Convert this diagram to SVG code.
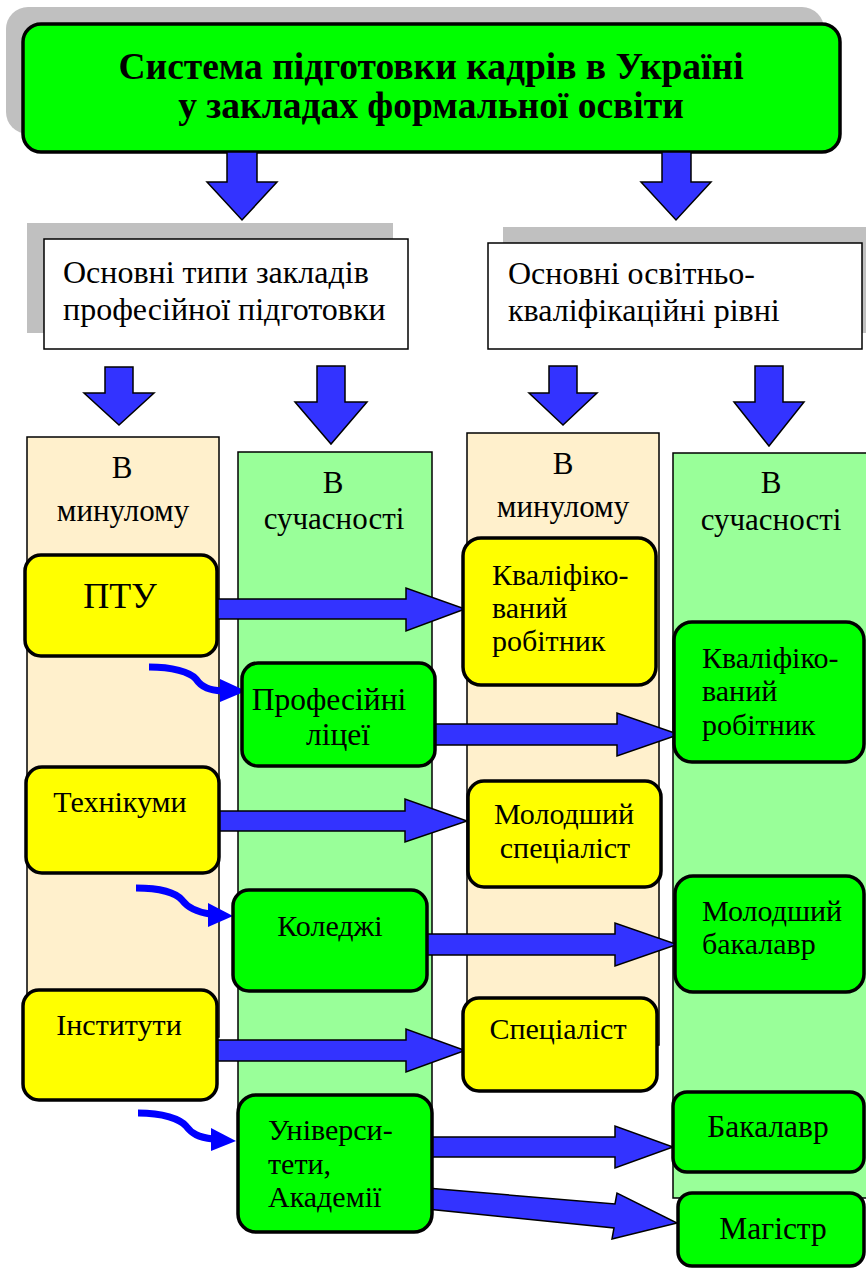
<svg xmlns="http://www.w3.org/2000/svg" width="866" height="1269" viewBox="0 0 866 1269">
<style>
text{font-family:'Liberation Serif','Times New Roman',serif;fill:#000}
.t{font-size:30px}
.tl{font-size:31.5px}
.hb{font-size:32px}
.h{font-size:31px}
.c{text-anchor:middle}
.ttl{font-size:37.5px;font-weight:bold;text-anchor:middle}
.shadow{fill:#C0C0C0}
.box{fill:#FFFFFF;stroke:#000;stroke-width:1.5}
.beige{fill:#FFF0CC;stroke:#000;stroke-width:1.5}
.lg{fill:#99FF99;stroke:#000;stroke-width:1.5}
.y{fill:#FFFF00;stroke:#000;stroke-width:3.5}
.g{fill:#00FF00;stroke:#000;stroke-width:3.5}
.ba{fill:#3333FF;stroke:#000;stroke-width:1.5;stroke-linejoin:miter}
.cv{fill:none;stroke:#0000FF;stroke-width:7}
.cvh{fill:#0000FF}
</style>

<g id="title">
<rect class="shadow" x="6" y="7" width="818" height="127" rx="22"/>
<rect x="23" y="24" width="817" height="128" rx="18" fill="#00FF00" stroke="#000" stroke-width="3.5"/>
<text class="ttl" x="431" y="79">Система підготовки кадрів в Україні</text>
<text class="ttl" x="431" y="118">у закладах формальної освіти</text>
</g>

<g id="types">
<rect class="shadow" x="27" y="223" width="366" height="110"/>
<rect class="box" x="44" y="239" width="364" height="110"/>
<text class="hb" x="63" y="283">Основні типи закладів</text>
<text class="hb" x="63" y="320">професійної підготовки</text>
</g>

<g id="levels">
<rect class="shadow" x="503" y="227" width="363" height="106"/>
<rect class="box" x="488" y="243" width="374" height="106"/>
<text class="hb" x="508" y="284">Основні освітньо-</text>
<text class="hb" x="508" y="321">кваліфікаційні рівні</text>
</g>

<g id="col-past-types">
<rect class="beige" x="27" y="437" width="192" height="600"/>
<text class="h c" x="122" y="478">В</text>
<text class="h c" x="123" y="521">минулому</text>
</g>
<g id="col-now-types">
<rect class="lg" x="238" y="452" width="194" height="750"/>
<text class="h c" x="333" y="493">В</text>
<text class="h c" x="334" y="529">сучасності</text>
</g>
<g id="col-past-levels">
<rect class="beige" x="467" y="433" width="192" height="612"/>
<text class="h c" x="563" y="474">В</text>
<text class="h c" x="563" y="517">минулому</text>
</g>
<g id="col-now-levels">
<rect class="lg" x="673" y="453" width="200" height="745"/>
<text class="h c" x="771" y="493">В</text>
<text class="h c" x="771" y="530">сучасності</text>
</g>

<g id="connectors">
<polygon class="ba" points="227,152 257,152 257,182 277,182 242,220 207,182 227,182"/>
<polygon class="ba" points="662,152 691,152 691,182 711,182 676,220 641,182 662,182"/>
<polygon class="ba" points="105,367 133,367 133,393 154,393 119,425 84,393 105,393"/>
<polygon class="ba" points="317,366 345,366 345,402 367,402 331,444 295,402 317,402"/>
<polygon class="ba" points="549,366 577,366 577,393 597,393 563,425 529,393 549,393"/>
<polygon class="ba" points="755,366 783,366 783,402 804,402 769,446 734,402 755,402"/>
<polygon class="ba" points="217,599 406,599 406,588 465,609 406,631 406,619 217,619"/>
<polygon class="ba" points="428,724 617,724 617,713 679,734.5 617,756 617,745 428,745"/>
<polygon class="ba" points="218,811 405,811 405,799 467,821 405,842 405,831 218,831"/>
<polygon class="ba" points="427,934 615,934 615,923 677,944.5 615,966 615,955 427,955"/>
<polygon class="ba" points="217,1040 406,1040 406,1029 465,1050.5 406,1072 406,1061 217,1061"/>
<polygon class="ba" points="427,1137 615,1137 615,1126 673,1147 615,1168 615,1157 427,1157"/>
<polygon class="ba" points="427,1188 615,1204 617,1193 677,1223 612,1239 614,1228 427,1209"/>
<path class="cv" d="M149,667 C172,667 190,672 196,679 C202,688 210,690 222,691"/>
<polygon class="cvh" points="220,679 246,691 220,702"/>
<path class="cv" d="M136,888 C160,888 176,893 182,900 C188,908 196,912 210,914"/>
<polygon class="cvh" points="208,903 233,916 208,927"/>
<path class="cv" d="M138,1113 C163,1113 180,1119 186,1126 C192,1134 198,1137 213,1139"/>
<polygon class="cvh" points="211,1128 236,1141 211,1151"/>
</g>

<g id="ptu">
<rect class="y" x="25" y="555" width="192" height="101" rx="16"/>
<text class="c" x="120" y="608" font-size="36">ПТУ</text>
</g>
<g id="lyceums">
<rect class="g" x="242" y="663" width="193" height="103" rx="16"/>
<text class="tl c" x="329" y="710">Професійні</text>
<text class="tl c" x="338" y="745">ліцеї</text>
</g>
<g id="technikums">
<rect class="y" x="26" y="767" width="193" height="106" rx="16"/>
<text class="t c" x="120" y="812">Технікуми</text>
</g>
<g id="colleges">
<rect class="g" x="233" y="890" width="194" height="101" rx="16"/>
<text class="t c" x="330" y="936">Коледжі</text>
</g>
<g id="institutes">
<rect class="y" x="23" y="990" width="194" height="110" rx="16"/>
<text class="t c" x="119" y="1035">Інститути</text>
</g>
<g id="universities">
<rect class="g" x="238" y="1095" width="194" height="137" rx="18"/>
<text class="t" x="268" y="1140">Універси-</text>
<text class="t" x="268" y="1174">тети,</text>
<text class="t" x="268" y="1207">Академії</text>
</g>
<g id="qualified-past">
<rect class="y" x="463" y="538" width="193" height="147" rx="18"/>
<text class="t" x="492" y="585">Кваліфіко-</text>
<text class="t" x="492" y="618">ваний</text>
<text class="t" x="492" y="651">робітник</text>
</g>
<g id="qualified-now">
<rect class="g" x="674" y="622" width="190" height="140" rx="18"/>
<text class="t" x="702" y="668">Кваліфіко-</text>
<text class="t" x="702" y="701">ваний</text>
<text class="t" x="702" y="735">робітник</text>
</g>
<g id="junior-specialist">
<rect class="y" x="468" y="781" width="193" height="106" rx="16"/>
<text class="t c" x="564" y="824">Молодший</text>
<text class="t c" x="565" y="858">спеціаліст</text>
</g>
<g id="junior-bachelor">
<rect class="g" x="675" y="876" width="189" height="116" rx="18"/>
<text class="t" x="702" y="921">Молодший</text>
<text class="t" x="702" y="954">бакалавр</text>
</g>
<g id="specialist">
<rect class="y" x="463" y="998" width="194" height="93" rx="16"/>
<text class="t c" x="558" y="1039">Спеціаліст</text>
</g>
<g id="bachelor">
<rect class="g" x="673" y="1092" width="191" height="80" rx="14"/>
<text class="tl c" x="768" y="1137">Бакалавр</text>
</g>
<g id="master">
<rect class="g" x="678" y="1193" width="186" height="73" rx="14"/>
<text class="tl c" x="773" y="1239">Магістр</text>
</g>
</svg>
